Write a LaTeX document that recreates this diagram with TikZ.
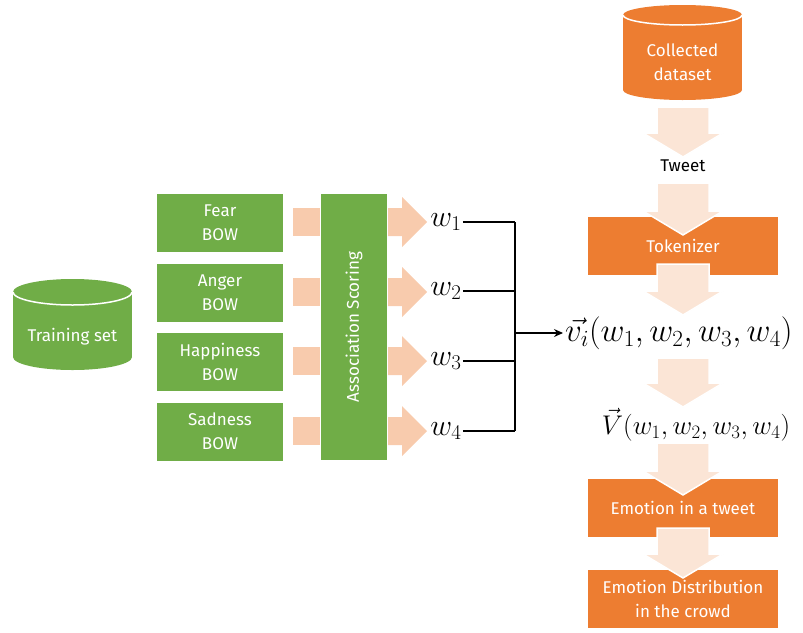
\documentclass[tikz,border=0pt]{standalone}
\usepackage{fix-cm}
\usepackage{fontspec}
\setsansfont{Fira Sans}
\usetikzlibrary{arrows.meta}

\definecolor{boxgreen}{HTML}{70AD47}
\definecolor{boxorange}{HTML}{ED7D31}
\definecolor{peach}{HTML}{F8CBAD}
\definecolor{palepeach}{HTML}{FBE5D6}

\tikzset{
  boxfont/.style={font=\sffamily\fontsize{17}{24}\selectfont},
  greenbox/.style={boxfont, fill=boxgreen, text=white, align=center,
    minimum width=126pt, minimum height=58pt, inner sep=0pt},
  orangebox/.style={boxfont, fill=boxorange, text=white, align=center,
    minimum width=190pt, minimum height=58pt, inner sep=0pt},
  wlabel/.style={font=\fontsize{30}{36}\selectfont, inner sep=1pt},
  wire/.style={line width=1.1pt},
}

% drum: centre x, top y, bottom y, x radius, y radius, colour
\newcommand{\drum}[6]{%
  \fill[#6] (#1-#4,#2) rectangle (#1+#4,#3);
  \fill[#6] (#1,#3) ellipse (#4 and #5);
  \fill[#6] (#1,#2) ellipse (#4 and #5);
  \draw[white, line width=1.5pt] (#1+#4,#2) arc[start angle=0, end angle=180, x radius=#4, y radius=#5];
}

\begin{document}
\begin{tikzpicture}[x=1pt, y=-1pt]
\useasboundingbox (0,0) rectangle (803,632);

% left part
\drum{72.5}{292}{357}{59.5}{13}{boxgreen}
\node[boxfont, text=white] (train) at (72.5,337) {Training set};

\node[greenbox] (fear) at (220,222.5) {Fear\\BOW};
\node[greenbox] (anger) at (220,292.5) {Anger\\BOW};
\node[greenbox] (happy) at (220,362) {Happiness\\BOW};
\node[greenbox] (sad) at (220,431.5) {Sadness\\BOW};

\node[greenbox, rotate=90, minimum width=266pt, minimum height=66pt] (assoc) at (354,327) {Association Scoring};

\foreach \y in {222,292,361,431} {
  \fill[peach] (293,\y-14) rectangle (320,\y+14);
  \fill[peach] (388,\y-14) -- (402,\y-14) -- (402,\y-25) -- (427,\y) -- (402,\y+25) -- (402,\y+14) -- (388,\y+14) -- cycle;
}

\node[wlabel] (w1) at (446,222) {$w_1$};
\node[wlabel] (w2) at (446,291) {$w_2$};
\node[wlabel] (w3) at (446,361) {$w_3$};
\node[wlabel] (w4) at (446,431) {$w_4$};

\coordinate (join) at (515,333);
\draw[wire] (w1.east) -- (w1.east -| join);
\draw[wire] (w2.east) -- (w2.east -| join);
\draw[wire] (w3.east) -- (w3.east -| join);
\draw[wire] (w4.east) -- (w4.east -| join);
\draw[wire] (w1.east -| join) -- (w4.east -| join);

% right part
\drum{682.5}{15}{90}{59.5}{10}{boxorange}
\node[boxfont, text=white, align=center] (collected) at (682.5,62) {Collected\\dataset};

\node[boxfont] (tweet) at (683,166) {Tweet};
\node[orangebox] (token) at (683,246) {Tokenizer};
\node[font=\fontsize{33}{40}\selectfont, anchor=west, inner sep=2pt] (vi) at (563,333) {$\vec{v_i}(w_1, w_2, w_3, w_4)$};
\node[font=\fontsize{27}{32}\selectfont] (V) at (696,425) {$\vec{V}(w_1, w_2, w_3, w_4)$};
\node[orangebox] (emo) at (683,507.5) {Emotion in a tweet};
\node[orangebox] (dist) at (683,599) {Emotion Distribution\\in the crowd};

\foreach \a/\b in {107/157, 183/235, 264/315, 358/407, 443/495, 528/578} {
  \filldraw[fill=palepeach, draw=white, line width=1.5pt] (657,\a) -- (709,\a) -- (709,\b-24) -- (723,\b-24) -- (683,\b) -- (643,\b-24) -- (657,\b-24) -- cycle;
}

\draw[wire, -{Stealth[length=9pt, width=8pt]}] (join) -- (vi.west);
\end{tikzpicture}
\end{document}
